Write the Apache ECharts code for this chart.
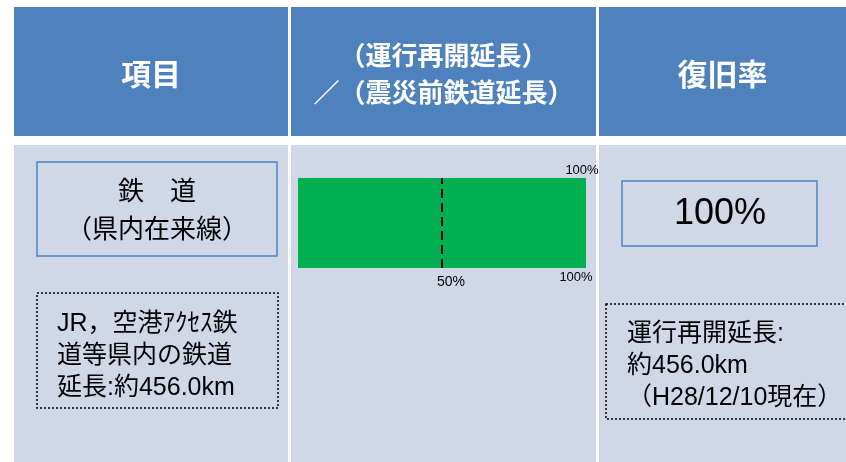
<!DOCTYPE html>
<html><head><meta charset="utf-8">
<script src="https://cdn.jsdelivr.net/npm/echarts@6/dist/echarts.min.js"></script>
<style>html,body{margin:0;padding:0;background:#fff}#c{width:846px;height:462px}</style>
</head><body><div id="c"></div>
<script>
const categories = ['鉄道（県内在来線）'];
const restoredRate = [100];
const referenceValue = 50;
const axisTicks = [50, 100];
const headers = ['項目', '（運行再開延長）\n／（震災前鉄道延長）', '復旧率'];
const itemTitle = '鉄　道\n（県内在来線）';
const itemNote = ['JR，空港ｱｸｾｽ鉄', '道等県内の鉄道', '延長:約456.0km'];
const rateText = restoredRate[0] + '%';
const rateNote = ['運行再開延長:', '約456.0km', '（H28/12/10現在）'];

const HEAD = '#4F81BD', BODY = '#D0D8E8';
const CJK = '"Liberation Sans","Noto Sans CJK JP",sans-serif';
const cols = [[14, 288], [291, 596], [599, 846]];
const headSize = [30, 26, 30];
const g = [];
cols.forEach((c, i) => {
  g.push({type: 'rect', shape: {x: c[0], y: 7, width: c[1] - c[0], height: 129}, style: {fill: HEAD}, z: 0});
  g.push({type: 'rect', shape: {x: c[0], y: 145, width: c[1] - c[0], height: 317}, style: {fill: BODY}, z: 0});
  g.push({type: 'text', x: (c[0] + c[1]) / 2, y: 74, style: {text: headers[i], fill: '#fff', font: 'bold ' + headSize[i] + 'px "Noto Sans CJK JP",sans-serif', textAlign: 'center', textVerticalAlign: 'middle', lineHeight: 37}, z: 5});
});
// column 1 boxes
g.push({type: 'rect', shape: {x: 37, y: 162, width: 240, height: 94}, style: {fill: 'none', stroke: '#4F81BD', lineWidth: 1.5}, z: 2});
g.push({type: 'text', x: 157, y: 212, style: {text: itemTitle, fill: '#000', font: '26px ' + CJK, textAlign: 'center', textVerticalAlign: 'middle', lineHeight: 38}, z: 5});
g.push({type: 'rect', shape: {x: 37, y: 293, width: 241, height: 115}, style: {fill: 'none', stroke: '#000', lineWidth: 1.5, lineDash: [2, 2]}, z: 2});
g.push({type: 'text', x: 57, y: 356, style: {text: itemNote.join('\n'), fill: '#000', font: '25px ' + CJK, textAlign: 'left', textVerticalAlign: 'middle', lineHeight: 32}, z: 5});
// column 3 boxes
g.push({type: 'rect', shape: {x: 622, y: 181, width: 195, height: 65}, style: {fill: 'none', stroke: '#4F81BD', lineWidth: 1.5}, z: 2});
g.push({type: 'text', x: 720, y: 214, style: {text: rateText, fill: '#000', font: '36px "Liberation Sans",sans-serif', textAlign: 'center', textVerticalAlign: 'middle'}, z: 5});
g.push({type: 'rect', shape: {x: 606, y: 304, width: 250, height: 115}, style: {fill: 'none', stroke: '#000', lineWidth: 1.5, lineDash: [2, 2]}, z: 2});
g.push({type: 'text', x: 627, y: 366, style: {text: rateNote.join('\n'), fill: '#000', font: '25px ' + CJK, textAlign: 'left', textVerticalAlign: 'middle', lineHeight: 32}, z: 5});

const chart = echarts.init(document.getElementById('c'));
chart.setOption({
  animation: false,
  graphic: g,
  grid: {left: 298, right: 260, top: 178, height: 90},
  xAxis: [{
    type: 'value', min: 0, max: 100, interval: 50, position: 'bottom',
    axisLine: {show: false}, axisTick: {show: false}, splitLine: {show: false},
    axisLabel: {
      margin: 3, color: '#000', fontFamily: 'Liberation Sans', fontSize: 13,
      formatter: v => axisTicks.indexOf(v) < 0 ? '' : (v === 100 ? '{l|' + v + '%}' : '{r|' + v + '%}'),
      rich: {l: {fontSize: 13, padding: [0, 20, 0, 0]}, r: {fontSize: 14, padding: [4, 0, 0, 18]}}
    }
  }, {
    type: 'value', min: 0, max: 100, interval: 50, position: 'top',
    axisLine: {show: false}, axisTick: {show: false}, splitLine: {show: false},
    axisLabel: {
      margin: 1, color: '#000', fontFamily: 'Liberation Sans', fontSize: 13,
      formatter: v => v === restoredRate[0] ? '{l|' + v + '%}' : '',
      rich: {l: {fontSize: 13, padding: [0, 8, 0, 0]}}
    }
  }],
  yAxis: {type: 'category', data: categories, show: false},
  series: [{
    type: 'bar', data: restoredRate, barWidth: '100%', itemStyle: {color: '#00B050'},
    markLine: {
      silent: true, symbol: 'none', label: {show: false},
      lineStyle: {color: '#000', type: [9, 5], width: 2},
      data: [{xAxis: referenceValue}]
    }
  }]
});
</script></body></html>
